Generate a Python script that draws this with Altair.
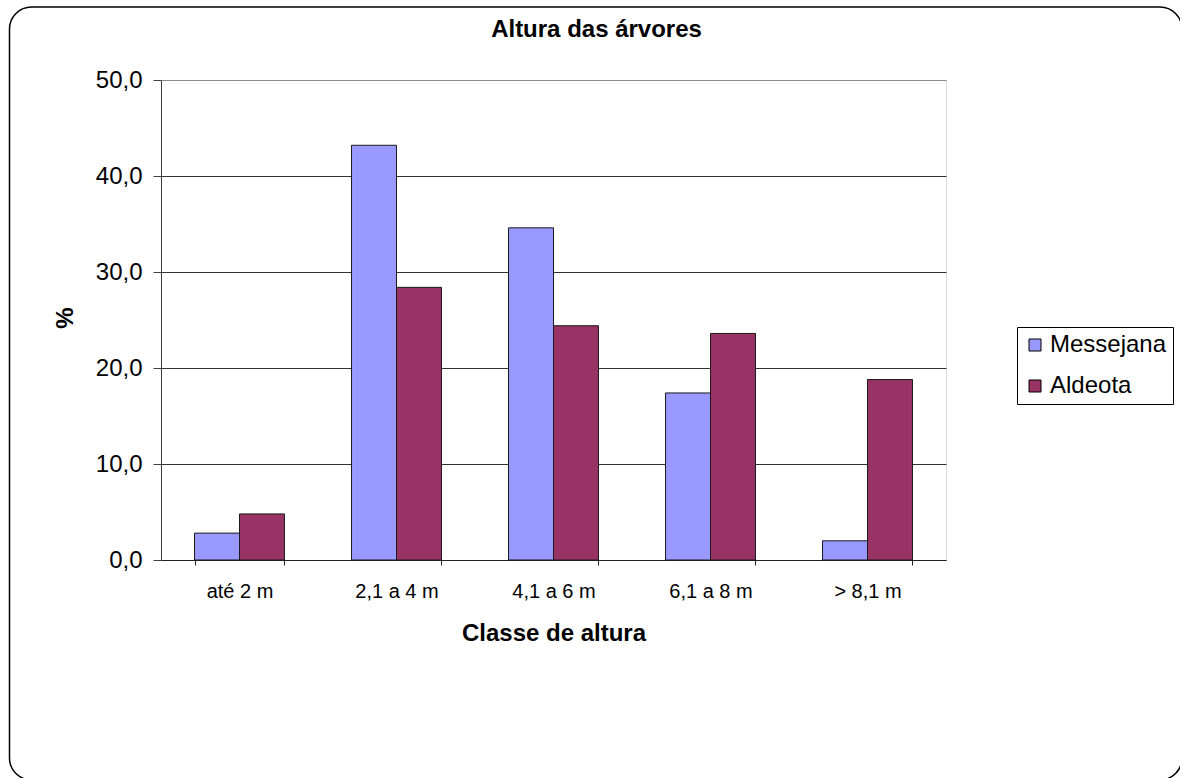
import altair as alt
import pandas as pd

# Tree height classes and share of trees (%) per neighbourhood
classes = ["até 2 m", "2,1 a 4 m", "4,1 a 6 m", "6,1 a 8 m", "> 8,1 m"]
series = ["Messejana", "Aldeota"]
messejana = [2.8, 43.2, 34.6, 17.4, 2.0]
aldeota = [4.8, 28.4, 24.4, 23.6, 18.8]
colors = ["#9999FF", "#993366"]
y_ticks = [0, 10, 20, 30, 40, 50]

rows = []
for c, m, a in zip(classes, messejana, aldeota):
    rows.append({"classe": c, "bairro": "Messejana", "pct": m})
    rows.append({"classe": c, "bairro": "Aldeota", "pct": a})
df = pd.DataFrame(rows)

FONT = "Liberation Sans"
W, H = 785, 480

bars = alt.Chart(df).mark_bar(stroke="#1a1a1a", strokeWidth=1).encode(
    x=alt.X(
        "classe:N",
        sort=classes,
        scale=alt.Scale(paddingInner=0.427, paddingOuter=0.2135),
        axis=alt.Axis(
            title="Classe de altura",
            labelAngle=0,
            labelFont=FONT,
            labelFontSize=20,
            labelColor="black",
            labelPadding=16,
            tickBand="extent",
            tickSize=5,
            tickColor="#222222",
            domainColor="#222222",
            titleFont=FONT,
            titleFontSize=24,
            titleFontWeight="bold",
            titleColor="black",
            titleBaseline="alphabetic",
            titleY=80,
        ),
    ),
    xOffset=alt.XOffset("bairro:N", sort=series, scale=alt.Scale(paddingInner=0, paddingOuter=0)),
    y=alt.Y(
        "pct:Q",
        scale=alt.Scale(domain=[0, 50], nice=False),
        axis=alt.Axis(
            title="%",
            values=y_ticks,
            labelExpr="replace(format(datum.value, '.1f'), '.', ',')",
            labelFont=FONT,
            labelFontSize=24,
            labelColor="black",
            labelPadding=11,
            tickSize=8,
            tickColor="#404040",
            domainColor="#404040",
            gridColor={"condition": {"test": "datum.value === 50", "value": "#8c8c8c"}, "value": "#333333"},
            gridWidth=1,
            titleFont=FONT,
            titleFontSize=24,
            titleFontWeight="bold",
            titleColor="black",
            titleAngle=270,
            titleAlign="center",
            titleBaseline="middle",
            titleX=-95.5,
            titleY=237.5,
        ),
    ),
    color=alt.Color(
        "bairro:N",
        sort=series,
        scale=alt.Scale(domain=series, range=colors),
        legend=alt.Legend(
            title=None,
            orient="none",
            legendX=856,
            legendY=247,
            strokeColor="black",
            fillColor="white",
            padding=6,
            labelFont=FONT,
            labelFontSize=24,
            labelColor="black",
            labelOffset=3,
            labelLimit=300,
            rowPadding=17,
            symbolType="square",
            symbolSize=144,
            symbolStrokeColor="black",
            symbolStrokeWidth=1,
            symbolOpacity=1,
        ),
    ),
)

# Rounded outer frame around the whole chart
frame = alt.Chart(pd.DataFrame({"k": [0]})).mark_rect(
    fillOpacity=0, stroke="black", strokeWidth=1.5, cornerRadius=22
).encode(
    x=alt.value(-151.5), x2=alt.value(1021),
    y=alt.value(-73), y2=alt.value(700),
)

chart = alt.layer(frame, bars).properties(
    width=W,
    height=H,
    title=alt.TitleParams(
        "Altura das árvores",
        font=FONT,
        fontSize=24,
        fontWeight="bold",
        color="black",
        anchor="middle",
        baseline="alphabetic",
        dx=43,
        dy=54.5,
        offset=0,
    ),
    autosize=alt.AutoSizeParams(type="none"),
    padding={"left": 161, "top": 80, "right": 234, "bottom": 218},
).configure_view(
    stroke="#8c8c8c", strokeWidth=1
).configure(background="white")

chart.save("out.html", embed_options={"renderer": "svg", "actions": False})
